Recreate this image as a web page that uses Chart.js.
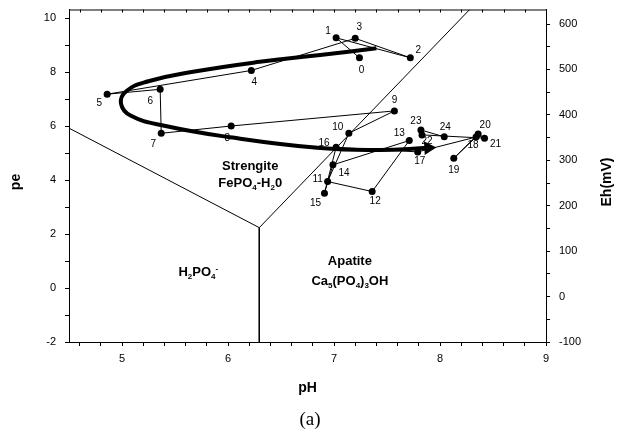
<!DOCTYPE html>
<html>
<head>
<meta charset="utf-8">
<script src="https://cdn.jsdelivr.net/npm/chart.js@4"></script>
<style>
  body { margin: 0; background: #fff; }
</style>
</head>
<body>
<canvas id="pe_chart" width="625" height="439"></canvas>
<script>
// sample points, in sampling order
var sampleIds = ["0","1","2","3","4","5","6","7","8","9","10","11","12","13","14","15","16","17","18","19","20","21","22","23","24"];
var samplePH = [7.24, 7.02, 7.72, 7.20, 6.22, 4.86, 5.36, 5.37, 6.03, 7.57, 7.14, 6.94, 7.36, 7.71, 6.99, 6.91, 7.02, 7.79, 8.34, 8.13, 8.36, 8.42, 7.83, 7.82, 8.04];
var samplePe = [8.54, 9.28, 8.54, 9.26, 8.07, 7.19, 7.37, 5.74, 6.01, 6.57, 5.74, 3.95, 3.58, 5.47, 4.57, 3.52, 5.22, 5.05, 5.60, 4.81, 5.71, 5.56, 5.68, 5.86, 5.61];

// hand drawn trend (thick arrow)
var trendPH = [7.40, 6.87, 6.30, 5.67, 5.24, 5.04, 4.99, 5.08, 5.40, 5.99, 6.87, 7.43, 7.89];
var trendPe = [8.89, 8.64, 8.39, 8.02, 7.66, 7.30, 6.85, 6.40, 6.02, 5.61, 5.19, 5.12, 5.20];

// stability field boundaries
var boundLeftPH = [4.5, 6.295];
var boundLeftPe = [5.93, 2.24];
var boundDiagPH = [6.295, 8.28];
var boundDiagPe = [2.24, 10.33];
var boundVertPH = [6.295, 6.295];
var boundVertPe = [2.24, -2];

// axis ticks
var phTicks = [5, 6, 7, 8, 9];
var peTicks = [-2, 0, 2, 4, 6, 8, 10];
var ehTicks = [-100, 0, 100, 200, 300, 400, 500, 600];

function toXY(xs, ys) {
  return xs.map(function (x, i) { return { x: x, y: ys[i] }; });
}

function stepTicks(min, max, step) {
  var out = [];
  for (var v = min; v <= max + 1e-9; v += step) out.push(Math.round(v * 1000) / 1000);
  return out;
}

function majorOnly(list) {
  return function (value) {
    return list.indexOf(Math.round(value * 1000) / 1000) >= 0 ? String(value) : '';
  };
}

function noPad(s) {
  s.paddingTop = 0; s.paddingBottom = 0; s.paddingLeft = 0; s.paddingRight = 0;
}

// label nudges (px) for sample numbers
var labelNudge = [[2,12],[-8,-7],[8,-8],[4,-11],[3,12],[-8,9],[-10,12],[-8,11],[-4,12],[0,-11],
  [-11,-6],[-10,-2],[3,10],[-10,-7],[11,8],[-9,10],[-12,-4],[2,9],[-3,8],[0,12],[7,-9],[11,6],[5,6],[-5,-9],[1,-10]];

function drawRich(ctx, parts, x, y, size) {
  var w = 0;
  parts.forEach(function (p) {
    ctx.font = 'bold ' + (p[1] ? Math.round(size * 0.65) : size) + 'px "Liberation Sans", Arial, sans-serif';
    p.w = ctx.measureText(p[0]).width;
    w += p.w;
  });
  var cx = x - w / 2;
  parts.forEach(function (p) {
    ctx.font = 'bold ' + (p[1] ? Math.round(size * 0.65) : size) + 'px "Liberation Sans", Arial, sans-serif';
    var dy = p[1] === 'sub' ? size * 0.35 : (p[1] === 'sup' ? -size * 0.3 : 0);
    ctx.textAlign = 'left';
    ctx.textBaseline = 'middle';
    ctx.fillText(p[0], cx, y + dy);
    cx += p.w;
  });
}

var annotations = {
  id: 'annotations',
  afterDatasetsDraw: function (chart) {
    var ctx = chart.ctx, xs = chart.scales.x, ys = chart.scales.y;
    ctx.save();
    ctx.fillStyle = '#000';
    ctx.font = '10px "Liberation Sans", Arial, sans-serif';
    ctx.textAlign = 'center';
    ctx.textBaseline = 'middle';
    sampleIds.forEach(function (id, i) {
      ctx.fillText(id, xs.getPixelForValue(samplePH[i]) + labelNudge[i][0],
        ys.getPixelForValue(samplePe[i]) + labelNudge[i][1]);
    });
    drawRich(ctx, [['Strengite']], xs.getPixelForValue(6.21), ys.getPixelForValue(4.50), 13);
    drawRich(ctx, [['FePO'], ['4', 'sub'], ['-H'], ['2', 'sub'], ['0']], xs.getPixelForValue(6.21), ys.getPixelForValue(3.89), 13);
    drawRich(ctx, [['Apatite']], xs.getPixelForValue(7.15), ys.getPixelForValue(0.99), 13);
    drawRich(ctx, [['Ca'], ['5', 'sub'], ['(PO'], ['4', 'sub'], [')'], ['3', 'sub'], ['OH']], xs.getPixelForValue(7.15), ys.getPixelForValue(0.26), 13);
    drawRich(ctx, [['H'], ['2', 'sub'], ['PO'], ['4', 'sub'], ['-', 'sup']], xs.getPixelForValue(5.72), ys.getPixelForValue(0.57), 13);

    // frame top + inward ticks
    var a = chart.chartArea;
    ctx.strokeStyle = '#000';
    ctx.lineWidth = 1;
    ctx.beginPath();
    ctx.moveTo(a.left, a.top + 0.5);
    ctx.lineTo(a.right, a.top + 0.5);
    stepTicks(4.6, 8.8, 0.2).forEach(function (v) {
      var px = Math.round(xs.getPixelForValue(v)) + 0.5;
      ctx.moveTo(px, a.top);
      ctx.lineTo(px, a.top + 3);
    });
    ctx.stroke();

    // axis titles and caption
    ctx.font = 'bold 14px "Liberation Sans", Arial, sans-serif';
    ctx.textAlign = 'center';
    ctx.fillText('pH', (a.left + a.right) / 2, 388);
    ctx.save();
    ctx.translate(16, 182);
    ctx.rotate(-Math.PI / 2);
    ctx.fillText('pe', 0, 0);
    ctx.restore();
    ctx.save();
    ctx.translate(607, 182);
    ctx.rotate(-Math.PI / 2);
    ctx.fillText('Eh(mV)', 0, 0);
    ctx.restore();
    ctx.font = '19px "Liberation Serif", "Times New Roman", serif';
    ctx.fillText('(a)', 310, 420);
    ctx.restore();
  }
};

var n = trendPH.length;
var arrowRadius = trendPH.map(function (v, i) { return i === n - 1 ? 8 : 0; });

var axisFont = { family: '"Liberation Sans", Arial, sans-serif', size: 11 };

new Chart(document.getElementById('pe_chart'), {
  type: 'scatter',
  data: {
    datasets: [
      {
        data: toXY(trendPH, trendPe),
        showLine: true,
        tension: 0.45,
        borderColor: '#000',
        borderWidth: 4,
        pointStyle: 'triangle',
        pointRadius: arrowRadius,
        pointRotation: 87,
        pointBackgroundColor: '#000',
        pointBorderColor: '#000',
        pointBorderWidth: 0
      },
      {
        data: toXY(samplePH, samplePe),
        showLine: true,
        tension: 0,
        borderColor: '#000',
        borderWidth: 1,
        pointRadius: 3.5,
        pointBackgroundColor: '#000',
        pointBorderWidth: 0
      },
      { data: toXY(boundLeftPH, boundLeftPe), showLine: true, borderColor: '#000', borderWidth: 1, pointRadius: 0 },
      { data: toXY(boundDiagPH, boundDiagPe), showLine: true, borderColor: '#000', borderWidth: 1, pointRadius: 0 },
      { data: toXY(boundVertPH, boundVertPe), showLine: true, borderColor: '#000', borderWidth: 1, pointRadius: 0 }
    ]
  },
  options: {
    responsive: false,
    animation: false,
    layout: { padding: { top: 9.5, left: 0, right: 0, bottom: 0 } },
    plugins: { legend: { display: false }, tooltip: { enabled: false } },
    scales: {
      x: {
        type: 'linear', position: 'bottom', min: 4.5, max: 9,
        afterBuildTicks: function (s) { s.ticks = stepTicks(4.6, 9, 0.2).map(function (v) { return { value: v }; }); },
        afterFit: function (s) { s.height = 97; noPad(s); },
        grid: { drawOnChartArea: false, tickLength: 4, color: '#000' },
        border: { color: '#000', width: 1 },
        ticks: { callback: majorOnly(phTicks), autoSkip: false, maxRotation: 0, padding: 6, color: '#000', font: axisFont }
      },
      y: {
        type: 'linear', position: 'left', min: -2, max: 10.33,
        afterBuildTicks: function (s) { s.ticks = stepTicks(-2, 10, 1).map(function (v) { return { value: v }; }); },
        afterFit: function (s) { s.width = 69; noPad(s); },
        grid: { drawOnChartArea: false, tickLength: 4, color: '#000' },
        border: { color: '#000', width: 1 },
        ticks: { callback: majorOnly(peTicks), autoSkip: false, padding: 9, color: '#000', font: axisFont }
      },
      y2: {
        type: 'linear', position: 'right', min: -100, max: 632,
        afterBuildTicks: function (s) { s.ticks = stepTicks(-100, 600, 50).map(function (v) { return { value: v }; }); },
        afterFit: function (s) { s.width = 79; noPad(s); },
        grid: { drawOnChartArea: false, tickLength: 4, color: '#000' },
        border: { color: '#000', width: 1 },
        ticks: { callback: majorOnly(ehTicks), autoSkip: false, padding: 9, color: '#000', font: axisFont }
      }
    }
  },
  plugins: [annotations]
});
</script>
</body>
</html>
